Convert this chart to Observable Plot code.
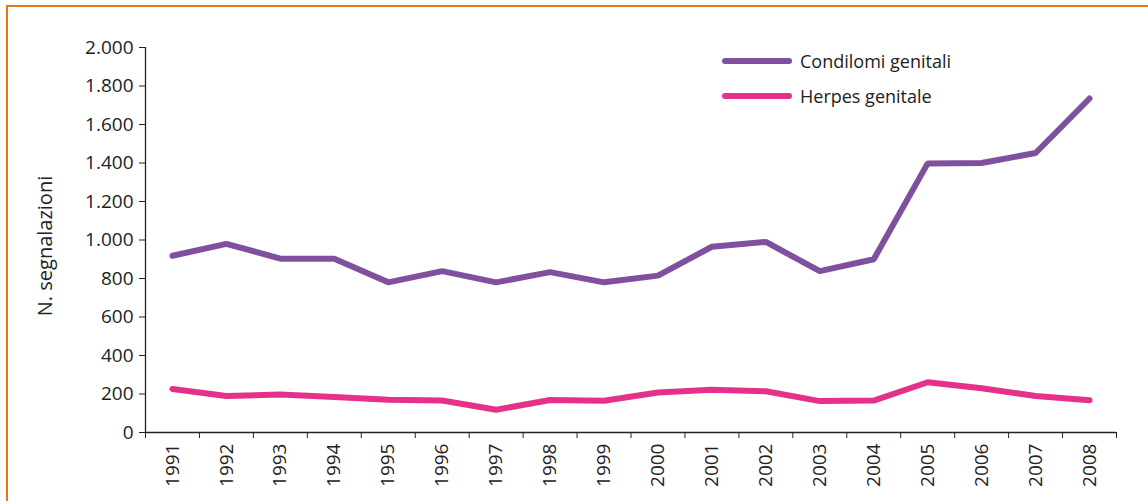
<!DOCTYPE html>
<html>
<head>
<meta charset="utf-8">
<script src="https://cdn.jsdelivr.net/npm/d3@7"></script>
<script src="https://cdn.jsdelivr.net/npm/@observablehq/plot@0.6"></script>
<style>
  html, body { margin: 0; padding: 0; background: #fff; }
  #wrap { position: relative; width: 1148px; height: 501px; overflow: hidden; font-family: "Open Sans", sans-serif; }
  #frame { position: absolute; left: 6px; top: 5px; width: 1200px; height: 600px; border-top: 2.5px solid #E8770F; border-left: 2.5px solid #E8770F; }
  #chart { position: absolute; left: 0; top: 0; }
  #legend { position: absolute; left: 722px; top: 43px; font-size: 18px; color: #222; }
  .row { display: flex; align-items: center; height: 35px; }
  .sw { width: 70px; height: 6px; border-radius: 3px; margin-right: 8px; }
</style>
</head>
<body>
<div id="wrap">
  <div id="frame"></div>
  <div id="chart"></div>
  <div id="legend"></div>
</div>
<script>
const years = [1991,1992,1993,1994,1995,1996,1997,1998,1999,2000,2001,2002,2003,2004,2005,2006,2007,2008];
const condilomi = [918, 980, 903, 903, 780, 838, 780, 833, 780, 815, 965, 990, 838, 900, 1398, 1400, 1452, 1735];
const herpes = [226, 190, 197, 185, 170, 166, 118, 169, 165, 208, 222, 214, 163, 166, 261, 230, 190, 168];
const seriesNames = ["Condilomi genitali", "Herpes genitale"];
const seriesColors = ["#7F509D", "#E5318B"];
const yTicks = [0, 200, 400, 600, 800, 1000, 1200, 1400, 1600, 1800, 2000];
const yLabel = "N. segnalazioni";

const fmt = d3.formatLocale({decimal: ",", thousands: ".", grouping: [3], currency: ["", "€"]}).format(",d");

const rows = [];
years.forEach((yr, i) => {
  rows.push({year: yr, value: condilomi[i], series: seriesNames[0]});
  rows.push({year: yr, value: herpes[i], series: seriesNames[1]});
});
const bounds = years.map(y => y - 0.5).concat([years[years.length - 1] + 0.5]);

const chart = Plot.plot({
  width: 1148,
  height: 501,
  marginLeft: 145,
  marginRight: 32,
  marginTop: 47,
  marginBottom: 69,
  style: {fontFamily: "Open Sans, sans-serif", fontSize: "19px", color: "#222", background: "transparent"},
  x: {type: "linear", domain: [bounds[0], bounds[bounds.length - 1]]},
  y: {domain: [0, 2000]},
  color: {domain: seriesNames, range: seriesColors},
  marks: [
    Plot.axisY({ticks: yTicks, tickFormat: fmt, tickSize: 6, tickPadding: 6, label: null, stroke: "#222", fontSize: 19}),
    Plot.axisX({ticks: bounds, tickFormat: () => "", tickSize: 6, label: null, stroke: "#222"}),
    Plot.axisX({ticks: years, tickFormat: d => String(d), tickSize: 0, tickPadding: 11, tickRotate: -90, label: null, fontSize: 19}),
    Plot.ruleY([0], {stroke: "#222", strokeWidth: 1.3}),
    Plot.ruleX([bounds[0]], {stroke: "#222", strokeWidth: 1.3}),
    Plot.text([yLabel], {frameAnchor: "left", textAnchor: "middle", dx: -100, dy: 6, rotate: -90, fontSize: 20, fill: "#222"}),
    Plot.line(rows, {x: "year", y: "value", z: "series", stroke: "series", strokeWidth: 6, strokeLinecap: "round", strokeLinejoin: "miter"})
  ]
});
document.getElementById("chart").appendChild(chart);

const legend = document.getElementById("legend");
seriesNames.forEach((n, i) => {
  const r = document.createElement("div");
  r.className = "row";
  const s = document.createElement("div");
  s.className = "sw";
  s.style.background = seriesColors[i];
  const t = document.createElement("span");
  t.textContent = n;
  r.appendChild(s); r.appendChild(t);
  legend.appendChild(r);
});
</script>
</body>
</html>
